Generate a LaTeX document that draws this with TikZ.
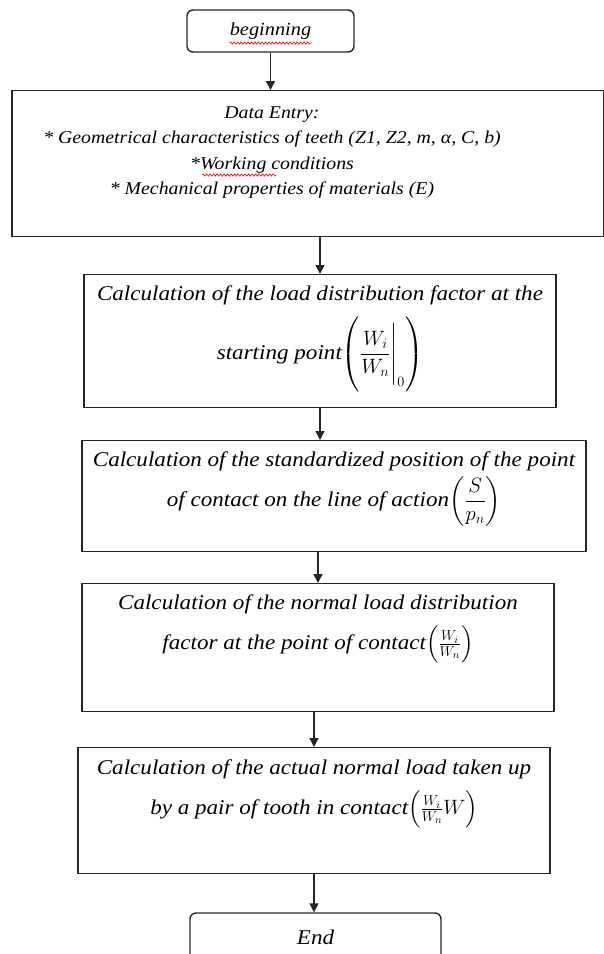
\documentclass[tikz,border=0pt]{standalone}
\usepackage{fontspec}
\setmainfont{Liberation Serif}[FakeStretch=1.1]
\usepackage{amsmath}
\usetikzlibrary{arrows.meta,decorations.pathmorphing}

% box text: width, height, top padding, lines
\newcommand{\boxtext}[4]{\parbox[c][#2pt][t]{#1pt}{\centering\vspace*{#3pt}#4}}

\begin{document}
\begin{tikzpicture}[
  x=1pt, y=-1pt,
  proc/.style={draw=black!85, line width=1.4pt, inner sep=0pt, anchor=north},
  term/.style={proc, rounded corners=6pt, anchor=center},
  small/.style={font=\itshape\fontsize{18}{25.5}\selectfont},
  big/.style={font=\itshape\fontsize{21}{40}\selectfont},
  arr/.style={-{Triangle[length=9pt,width=9pt]}, line width=1.4pt, draw=black!85},
  spell/.style={red, line width=0.6pt, decorate,
    decoration={snake, amplitude=1.2pt, segment length=3.5pt}},
]
\useasboundingbox (0,0) rectangle (603,954);

\node[term, small, minimum width=167pt, minimum height=42pt] (start) at (270.5,31)
  {\fontsize{18.5}{20}\selectfont beginning};

\node[proc, small] (entry) at (308,90) {\parbox[c][146pt][t]{592pt}{\vspace*{16pt}%
  \parbox[t]{520pt}{\centering
  Data Entry:\\
  * Geometrical characteristics of teeth (Z1, Z2, m, α, C, b)\\
  *Working conditions\\
  * Mechanical properties of materials (E)}}};

\node[proc, big] (ldf0) at (320,274) {\boxtext{472}{133}{11}{%
  Calculation of the load distribution factor at the\\[11pt]
  starting point$\left(\dfrac{W_i}{W_n}\Bigg|_0\rule[-34pt]{0pt}{72pt}\right)$}};

\node[proc, big] (stdpos) at (334,440) {\boxtext{504}{111}{11}{%
  Calculation of the standardized position of the point\\
  of contact on the line of action$\left(\dfrac{S}{p_n}\right)$}};

\node[proc, big] (ldf) at (318,583) {\boxtext{472}{128}{11}{%
  Calculation of the normal load distribution\\
  factor at the point of contact$\left(\frac{W_i}{W_n}\right)$}};

\node[proc, big] (load) at (314,747) {\boxtext{472}{126}{12}{%
  Calculation of the actual normal load taken up\\
  by a pair of tooth in contact$\left(\frac{W_i}{W_n}W\right)$}};

\node[term, big, minimum width=251pt, minimum height=48pt] (stop) at (315.5,937)
  {\fontsize{21}{22}\selectfont End};

% spell checker marks
\draw[spell] ([shift={(-41,12)}]start.center) -- ([shift={(41,12)}]start.center);
\draw[spell] ([shift={(-106,85)}]entry.north) -- ([shift={(-32,85)}]entry.north);

\draw[arr] (start.south) -- (start.south |- entry.north);
\draw[arr] (entry.south -| ldf0.north) -- (ldf0.north);
\draw[arr] (ldf0.south) -- (ldf0.south |- stdpos.north);
\draw[arr] (stdpos.south -| ldf.north) -- (ldf.north);
\draw[arr] (ldf.south -| load.north) -- (load.north);
\draw[arr] (load.south) -- (load.south |- stop.north);

\end{tikzpicture}
\end{document}
